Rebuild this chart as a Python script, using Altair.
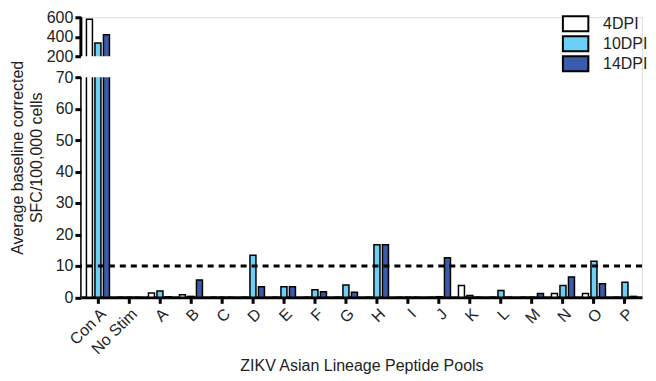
import altair as alt
import pandas as pd

pools = ["Con A", "No Stim", "A", "B", "C", "D", "E", "F", "G", "H",
         "I", "J", "K", "L", "M", "N", "O", "P"]
dpi4 = [580, 0, 1.4, 0.8, 0, 0, 0, 0, 0, 0, 0, 0, 3.8, 0, 0, 1.2, 1.2, 0]
dpi10 = [335, 0, 2.0, 0.3, 0, 13.4, 3.4, 2.4, 3.9, 16.7, 0, 0.2, 0.6, 2.2, 0, 3.8, 11.5, 4.8]
dpi14 = [420, 0, 0.2, 5.5, 0, 3.4, 3.4, 1.8, 1.6, 16.7, 0, 12.6, 0, 0, 1.2, 6.5, 4.3, 0.3]
series = ["4DPI", "10DPI", "14DPI"]
colors = ["#ffffff", "#6ccff6", "#3a5ba9"]
threshold = [10]
y_ticks = [0, 10, 20, 30, 40, 50, 60, 70, 200, 400, 600]
lower_segment = [0, 70]
upper_segment = [200, 600]
axis_break = [70, 200]

rows = []
for s, vals in zip(series, [dpi4, dpi10, dpi14]):
    for p, v in zip(pools, vals):
        rows.append({"pool": p, "dpi": s, "value": v})
df = pd.DataFrame(rows)

FONT = "Liberation Sans"
TXT = "#222222"
W = 562
H = 280.5
YTITLE = ["Average baseline corrected", "SFC/100,000 cells"]

yscale = alt.Scale(domain=[0, 70, 200, 600], range=[H, 60, 39, 0], nice=False)
yaxis = alt.Axis(values=y_ticks, title=YTITLE,
                 titleFontSize=16, titleFont=FONT,
                 titleFontWeight="normal", titleColor=TXT,
                 titlePadding=2, titleLineHeight=19,
                 grid=False, domain=False, labelOverlap=False,
                 tickWidth=3, tickSize=6, tickColor="black",
                 labelFontSize=16, labelFont=FONT, labelColor=TXT,
                 labelPadding=2)

bars = alt.Chart(df).mark_bar(stroke="black", strokeWidth=1.5).encode(
    x=alt.X("pool:N", sort=pools,
            scale=alt.Scale(paddingInner=0, paddingOuter=0.05),
            axis=alt.Axis(title="ZIKV Asian Lineage Peptide Pools",
                          labelAngle=-45, labelAlign="right", labelBaseline="top",
                          labelFontSize=16, labelFont=FONT, labelColor=TXT,
                          titleFontSize=16, titleFont=FONT, titleFontWeight="normal",
                          titleColor=TXT, titlePadding=1,
                          domainWidth=3, domainColor="black",
                          tickWidth=3, tickSize=6, tickColor="black",
                          labelPadding=2)),
    xOffset=alt.XOffset("dpi:N", sort=series,
                        scale=alt.Scale(paddingInner=0.294, paddingOuter=0.47)),
    y=alt.Y("value:Q", scale=yscale, axis=yaxis),
    color=alt.Color(
        "dpi:N", sort=series,
        scale=alt.Scale(domain=series, range=colors),
        legend=alt.Legend(
            title=None, orient="none", legendX=487, legendY=-2,
            labelFontSize=16, labelFont=FONT, labelColor=TXT,
            symbolType="M-1.7,-1H1.7V1H-1.7Z", symbolSize=225,
            symbolStrokeColor="black", symbolStrokeWidth=2,
            rowPadding=-5, labelOffset=19, padding=0,
        ),
    ),
)

mask = alt.Chart(pd.DataFrame({"lo": [axis_break[0]], "hi": [axis_break[1]]})).mark_rect(
    color="white"
).encode(
    x=alt.value(0), x2=alt.value(W),
    y=alt.Y("lo:Q", scale=yscale, axis=yaxis), y2="hi:Q",
)

seg_df = pd.DataFrame({
    "a": [lower_segment[0], upper_segment[0]],
    "b": [lower_segment[1], upper_segment[1]],
    "w": ["thin", "thick"],
})
domain_lines = alt.Chart(seg_df).mark_rule(color="black").encode(
    x=alt.value(0),
    y=alt.Y("a:Q", scale=yscale, axis=yaxis), y2="b:Q",
    strokeWidth=alt.StrokeWidth("w:N", scale=alt.Scale(domain=["thin", "thick"], range=[1.5, 3]),
                                legend=None),
)

rule = alt.Chart(pd.DataFrame({"t": threshold})).mark_rule(
    strokeDash=[6, 5], strokeWidth=3, color="black"
).encode(y=alt.Y("t:Q", scale=yscale, axis=yaxis))

chart = alt.layer(bars, mask, rule, domain_lines).properties(
    width=W, height=H,
    padding={"left": 1, "top": 1, "right": 0, "bottom": 0},
).configure_view(stroke=None).configure_axis(labelOverlap=False).configure(font=FONT)

chart.save("out.html", embed_options={"renderer": "svg", "actions": False})
